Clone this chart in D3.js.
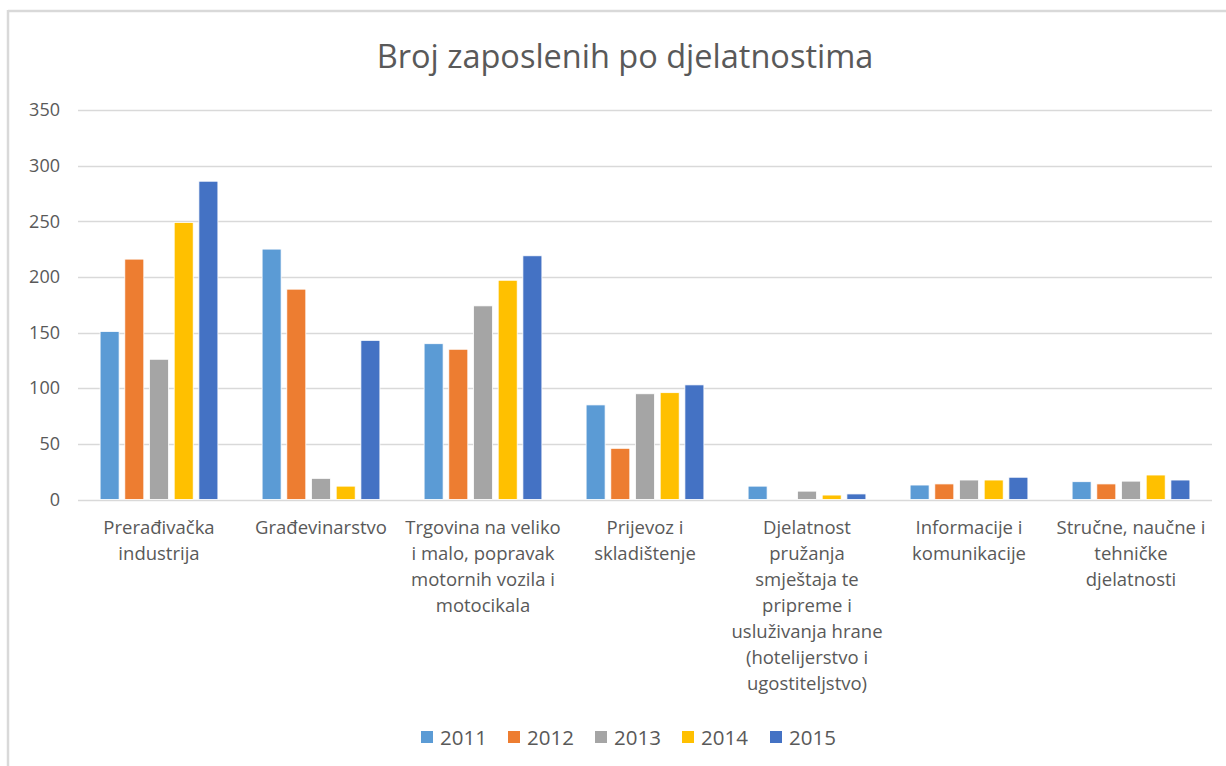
<!DOCTYPE html>
<html>
<head>
<meta charset="utf-8">
<script src="https://cdn.jsdelivr.net/npm/d3@7"></script>
<style>
  html, body { margin: 0; padding: 0; background: #fff; }
  svg { display: block; }
  text { font-family: "Open Sans", sans-serif; fill: #595959; }
</style>
</head>
<body>
<svg id="chart" width="1226" height="766"></svg>
<script>
const categories = [
  "Prerađivačka industrija",
  "Građevinarstvo",
  "Trgovina na veliko i malo, popravak motornih vozila i motocikala",
  "Prijevoz i skladištenje",
  "Djelatnost pružanja smještaja te pripreme i usluživanja hrane (hotelijerstvo i ugostiteljstvo)",
  "Informacije i komunikacije",
  "Stručne, naučne i tehničke djelatnosti"
];
const categoryLines = [
  ["Prerađivačka", "industrija"],
  ["Građevinarstvo"],
  ["Trgovina na veliko", "i malo, popravak", "motornih vozila i", "motocikala"],
  ["Prijevoz i", "skladištenje"],
  ["Djelatnost", "pružanja", "smještaja te", "pripreme i", "usluživanja hrane", "(hotelijerstvo i", "ugostiteljstvo)"],
  ["Informacije i", "komunikacije"],
  ["Stručne, naučne i", "tehničke", "djelatnosti"]
];
const years = ["2011", "2012", "2013", "2014", "2015"];
const values2011 = [151, 225, 140, 85, 12, 13, 16];
const values2012 = [216, 189, 135, 46, 0, 14, 14];
const values2013 = [126, 19, 174, 95, 7.5, 17.5, 16.5];
const values2014 = [249, 12, 197, 96, 4, 17.5, 22];
const values2015 = [286, 143, 219, 103, 5, 20, 17.5];
const seriesValues = [values2011, values2012, values2013, values2014, values2015];
const yTicks = [0, 50, 100, 150, 200, 250, 300, 350];
const colors = ["#5B9BD5", "#ED7D31", "#A5A5A5", "#FFC000", "#4472C4"];
const title = "Broj zaposlenih po djelatnostima";

const svg = d3.select("#chart");
const W = 1226, H = 766;
const plotBottom = 499.5, plotTop = 110;

// outer chart border (top and left only visible)
svg.append("line").attr("x1", 8).attr("x2", W).attr("y1", 11).attr("y2", 11)
  .attr("stroke", "#D9D9D9").attr("stroke-width", 2.5);
svg.append("line").attr("x1", 8).attr("x2", 8).attr("y1", 10).attr("y2", H)
  .attr("stroke", "#D9D9D9").attr("stroke-width", 2.5);

const x0 = d3.scaleBand().domain(categories).range([78, 1212]).paddingInner(0).paddingOuter(0);
const x1 = d3.scaleBand().domain(years).range([0, x0.bandwidth()]).paddingInner(0.23).paddingOuter(0.895);
const y = d3.scaleLinear().domain([0, 350]).range([plotBottom, plotTop]);

// gridlines
svg.append("g").selectAll("line").data(yTicks).join("line")
  .attr("x1", 78).attr("x2", 1212)
  .attr("y1", d => Math.round(y(d)) + 0.5).attr("y2", d => Math.round(y(d)) + 0.5)
  .attr("stroke", "#D9D9D9").attr("stroke-width", 1.3);

// y axis labels
const yAxis = d3.axisLeft(y).tickValues(yTicks).tickSize(0).tickPadding(0);
const gy = svg.append("g").attr("transform", "translate(60,0)").call(yAxis);
gy.select(".domain").remove();
gy.selectAll("text").attr("font-size", "18px").style("font-family", '"Open Sans", sans-serif').attr("fill", "#595959");

// bars
const groups = svg.append("g").selectAll("g").data(categories).join("g")
  .attr("transform", d => `translate(${x0(d)},0)`);
groups.selectAll("rect").data((d, i) => years.map((yr, j) => ({ yr, j, v: seriesValues[j][i] })))
  .join("rect")
  .attr("x", d => x1(d.yr))
  .attr("width", x1.bandwidth())
  .attr("y", d => y(d.v))
  .attr("height", d => plotBottom - y(d.v))
  .attr("fill", d => colors[d.j])
  .attr("stroke", d => d.v > 0 ? "#fff" : "none")
  .attr("stroke-width", 0.8);

// x axis category labels
const xl = svg.append("g");
categories.forEach((c, i) => {
  const cx = x0(c) + x0.bandwidth() / 2;
  const t = xl.append("text").attr("text-anchor", "middle").attr("font-size", "18.5px");
  categoryLines[i].forEach((line, k) => {
    t.append("tspan").attr("x", cx).attr("y", 534 + k * 26).text(line);
  });
});

// title
svg.append("text").attr("x", 625).attr("y", 68).attr("text-anchor", "middle")
  .attr("font-size", "32.5px").attr("font-weight", 400).attr("fill", "#595959")
  .text(title);

// legend
const legendX = [421, 508, 595, 682, 770];
const lg = svg.append("g").selectAll("g").data(years).join("g")
  .attr("transform", (d, i) => `translate(${legendX[i]},0)`);
lg.append("rect").attr("x", 0).attr("y", 731).attr("width", 12).attr("height", 12)
  .attr("fill", (d, i) => colors[i]);
lg.append("text").attr("x", 19).attr("y", 745).attr("font-size", "20.5px").text(d => d);
</script>
</body>
</html>
